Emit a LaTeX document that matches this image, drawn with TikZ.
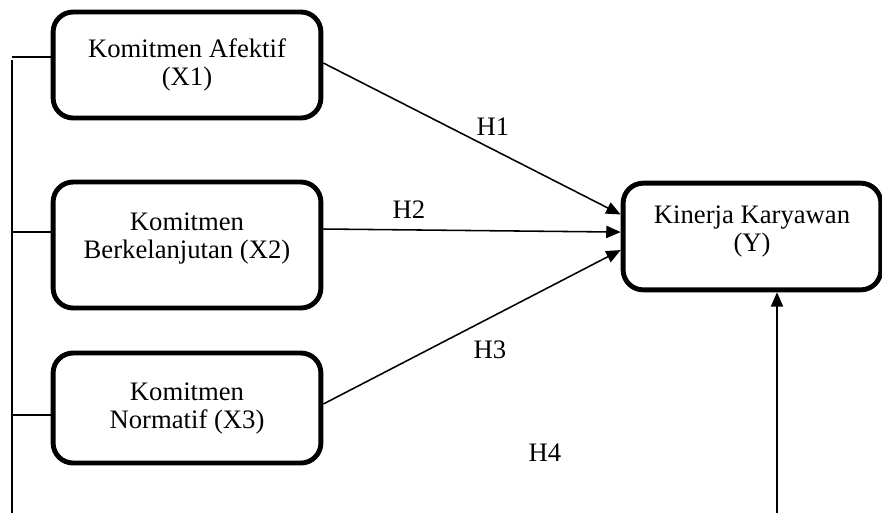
\documentclass[tikz,border=0pt]{standalone}
\usepackage{fontspec}
\setmainfont{Liberation Serif}
\usetikzlibrary{arrows.meta}

\tikzset{
	varBox/.style = {draw, line width = 2.2pt, rounded corners = 9pt, align = center,
		minimum width = 120.5pt, inner sep = 2pt, font = \fontsize{12pt}{12.6pt}\selectfont},
	hypArrow/.style = {line width = 0.7pt, -{Triangle[length = 6.5pt, width = 5.5pt]}},
	hypLabel/.style = {font = \fontsize{12pt}{12.6pt}\selectfont, inner sep = 0pt},
	linkLine/.style = {line width = 0.7pt}
}

\begin{document}
\begin{tikzpicture}[x = 0.45pt, y = -0.45pt]
		\useasboundingbox (0, 0) rectangle (882, 513);
		
		\node[varBox, minimum height = 47.7pt] (afektif) at (187, 65) {Komitmen Afektif\\(X1)};
		\node[varBox, minimum height = 56.7pt, text depth = 8pt] (berlanjut) at (187, 245) {Komitmen\\Berkelanjutan (X2)};
		\node[varBox, minimum height = 49.5pt] (normatif) at (187, 408) {Komitmen\\Normatif (X3)};
		\node[varBox, minimum width = 116pt, minimum height = 48pt, text depth = 7.5pt] (kinerja) at (752, 236.5) {Kinerja Karyawan\\(Y)};
		
		\node[hypLabel] (h1) at (493, 127) {H1};
		\node[hypLabel] (h2) at (409, 210) {H2};
		\node[hypLabel] (h3) at (490, 350) {H3};
		\node[hypLabel] (h4) at (545, 453) {H4};
		
		% joint line on the left
		\coordinate (leftTop) at (12, 60);
		\coordinate (leftBottom) at (12, 513);
		\coordinate (stubA) at (12, 57);
		\coordinate (stubB) at (12, 232);
		\coordinate (stubC) at (12, 415);
		\draw[linkLine] (leftTop) -- (leftBottom);
		\draw[linkLine] (stubA) -- (stubA -| afektif.west);
		\draw[linkLine] (stubB) -- (stubB -| berlanjut.west);
		\draw[linkLine] (stubC) -- (stubC -| normatif.west);
		
		\draw[hypArrow] ([yshift = 0.9pt]afektif.east) -- ([yshift = 9.9pt]kinerja.west);
		\draw[hypArrow] ([yshift = 7.2pt]berlanjut.east) -- ([yshift = 2pt]kinerja.west);
		\draw[hypArrow] ([yshift = 1.8pt]normatif.east) -- ([yshift = -6.1pt]kinerja.west);
		
		% joint effect H4
		\coordinate (rightBottom) at (777, 513);
		\draw[hypArrow] (rightBottom) -- (rightBottom |- kinerja.south);
		
	\end{tikzpicture}
\end{document}
